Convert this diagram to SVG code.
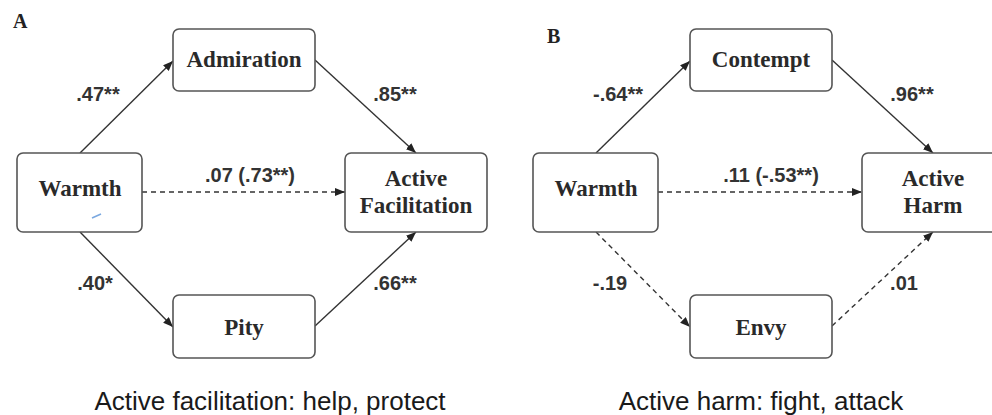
<svg xmlns="http://www.w3.org/2000/svg" width="992" height="415" viewBox="0 0 992 415">
<style>
.box{fill:#fff;stroke:#555;stroke-width:1.6}
.nt{font-family:"Liberation Serif","Times New Roman",serif;font-weight:bold;font-size:23px;fill:#2a2a2a;text-anchor:middle}
.lb{font-family:"Liberation Sans",Arial,sans-serif;font-weight:bold;font-size:20px;fill:#333;text-anchor:middle}
.cap{font-family:"Liberation Sans",Arial,sans-serif;font-size:26px;fill:#1a1a1a;text-anchor:middle}
.pl{font-family:"Liberation Serif","Times New Roman",serif;font-weight:bold;font-size:20px;fill:#222}
.c{stroke:#333;stroke-width:1.4;fill:none;marker-end:url(#ah)}
.d{stroke-dasharray:5 4}
</style>
<defs>
<marker id="ah" markerUnits="userSpaceOnUse" markerWidth="11" markerHeight="9" refX="10" refY="4" orient="auto">
<path d="M0,0 L10,4 L0,8 z" fill="#222"/>
</marker>
</defs>
<rect width="992" height="415" fill="#fff"/>
<text class="pl" x="13" y="28">A</text>
<text class="pl" x="547" y="43">B</text>
<g id="connectors">
<line class="c" x1="80" y1="153" x2="173" y2="61"/>
<line class="c" x1="315" y1="60" x2="416" y2="153"/>
<line class="c d" x1="142" y1="192" x2="345" y2="192"/>
<line class="c" x1="80" y1="232" x2="173" y2="327"/>
<line class="c" x1="315" y1="326" x2="416" y2="232"/>
<line class="c" x1="596" y1="153" x2="690" y2="61"/>
<line class="c" x1="832" y1="60" x2="933" y2="153"/>
<line class="c d" x1="658" y1="192" x2="862" y2="192"/>
<line class="c d" x1="596" y1="232" x2="690" y2="327"/>
<line class="c d" x1="832" y1="326" x2="933" y2="232"/>
</g>
<g id="labels">
<text class="lb" x="98" y="101">.47**</text>
<text class="lb" x="395" y="101">.85**</text>
<text class="lb" x="250" y="182">.07 (.73**)</text>
<text class="lb" x="95" y="290">.40*</text>
<text class="lb" x="395" y="290">.66**</text>
<text class="lb" x="618" y="101">-.64**</text>
<text class="lb" x="912" y="101">.96**</text>
<text class="lb" x="771" y="182">.11 (-.53**)</text>
<text class="lb" x="610" y="290">-.19</text>
<text class="lb" x="904" y="290">.01</text>
</g>
<g id="admiration"><rect class="box" x="173" y="29" width="142" height="62" rx="6"/><text class="nt" x="244" y="67">Admiration</text></g>
<g id="warmthA"><rect class="box" x="17" y="153" width="125" height="79" rx="6"/><text class="nt" x="80" y="196">Warmth</text><line x1="92" y1="218" x2="101" y2="214" stroke="#7aa8e0" stroke-width="1.5"/></g>
<g id="activeFacilitation"><rect class="box" x="345" y="153" width="142" height="79" rx="6"/><text class="nt" x="416" y="186">Active</text><text class="nt" x="416" y="213">Facilitation</text></g>
<g id="pity"><rect class="box" x="173" y="295" width="142" height="63" rx="6"/><text class="nt" x="244" y="335">Pity</text></g>
<g id="contempt"><rect class="box" x="690" y="29" width="142" height="62" rx="6"/><text class="nt" x="761" y="67">Contempt</text></g>
<g id="warmthB"><rect class="box" x="533" y="153" width="125" height="79" rx="6"/><text class="nt" x="596" y="196">Warmth</text></g>
<g id="activeHarm"><rect class="box" x="862" y="153" width="142" height="79" rx="6"/><text class="nt" x="933" y="186">Active</text><text class="nt" x="933" y="213">Harm</text></g>
<g id="envy"><rect class="box" x="690" y="295" width="142" height="63" rx="6"/><text class="nt" x="761" y="335">Envy</text></g>
<text class="cap" x="270" y="410">Active facilitation: help, protect</text>
<text class="cap" x="761" y="410">Active harm: fight, attack</text>
</svg>
